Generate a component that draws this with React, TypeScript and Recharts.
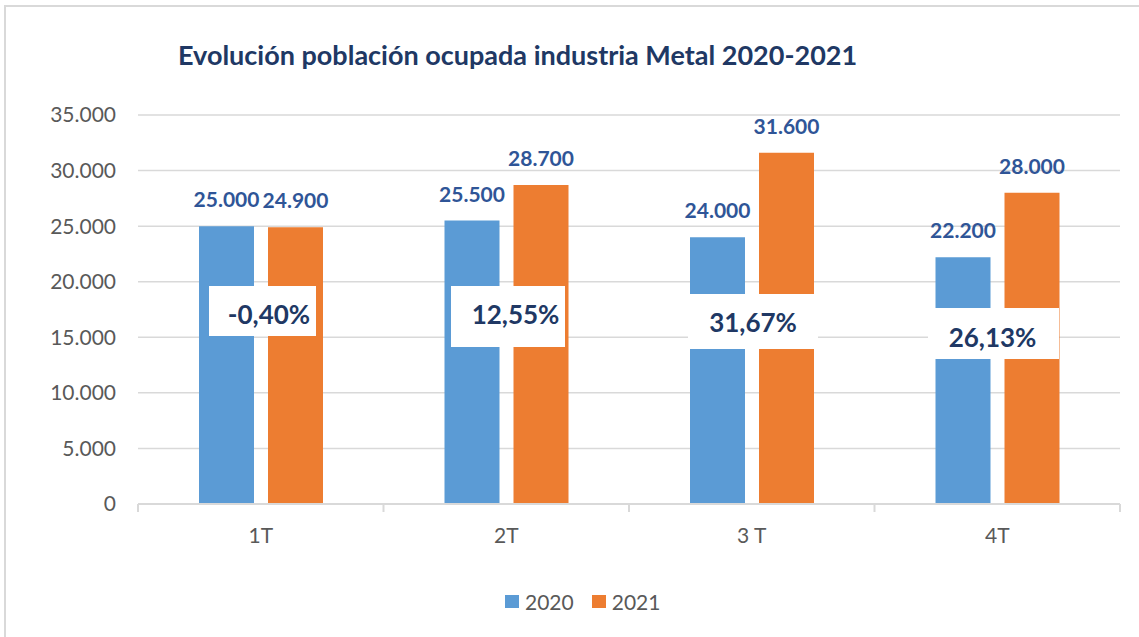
import { BarChart, Bar, XAxis, YAxis, CartesianGrid, LabelList, Legend } from 'recharts'

const quarters = ['1T', '2T', '3 T', '4T']
const values2020 = [25000, 25500, 24000, 22200]
const values2021 = [24900, 28700, 31600, 28000]
const yTicks = [0, 5000, 10000, 15000, 20000, 25000, 30000, 35000]

const data = quarters.map((q, i) => ({
  quarter: q,
  y2020: values2020[i],
  y2021: values2021[i],
  change: ((values2021[i] - values2020[i]) / values2020[i]) * 100,
}))

const BLUE = '#5b9bd5'
const ORANGE = '#ed7d31'
const NAVY = '#203864'
const LABEL_BLUE = '#2f5597'
const GREY_TEXT = '#595959'
const GRID = '#d9d9d9'
const FONT = 'Lato, "Open Sans", sans-serif'
const BAR_GAP = 14

// white annotation boxes with the yearly change (anchor in data units)
const boxLayout = [
  { anchor: 17365, dx: 1.5, w: 107, h: 50, tdx: 6.5, tdy: 4 },
  { anchor: 16870, dx: 1.5, w: 114, h: 61, tdx: 7.5, tdy: -1.5 },
  { anchor: 16420, dx: 1, w: 130, h: 55, tdx: 0, tdy: 1 },
  { anchor: 15340, dx: -4, w: 131, h: 51, tdx: -1, tdy: 4 },
]

const fmtThousands = (v: number) => String(v).replace(/\B(?=(\d{3})+(?!\d))/g, '.')
const fmtPct = (v: number) => `${v.toFixed(2).replace('.', ',')}%`

function ChangeBox(props: any) {
  const { x, y, height, index, value } = props
  const layout = boxLayout[index]
  if (!layout) return null
  const base = y + height
  const pxPerUnit = height / values2021[index]
  const cy = base - layout.anchor * pxPerUnit
  const cx = x - BAR_GAP / 2 + layout.dx
  const fs = 26
  return (
    <g>
      <rect x={cx - layout.w / 2} y={cy - layout.h / 2} width={layout.w} height={layout.h} fill="#ffffff" />
      <text
        x={cx + layout.tdx}
        y={cy + layout.tdy + fs * 0.36}
        textAnchor="middle"
        fontFamily={FONT}
        fontWeight={700}
        fontSize={fs}
        fill={NAVY}
      >
        {fmtPct(value)}
      </text>
    </g>
  )
}

// category label plus tick marks on the band edges
function QuarterTick(props: any) {
  const { x, y, payload, index, visibleTicksCount } = props
  const half = payload && payload.offset ? payload.offset : 122.75
  const isLast = index === (visibleTicksCount ?? quarters.length) - 1
  const axisY = y - 25
  return (
    <g>
      <line x1={x - half} x2={x - half} y1={axisY} y2={axisY + 8} stroke={GRID} strokeWidth={2} />
      {isLast && <line x1={x + half} x2={x + half} y1={axisY} y2={axisY + 8} stroke={GRID} strokeWidth={2} />}
      <text x={x} y={axisY + 39} textAnchor="middle" fontFamily={FONT} fontSize={21} fill={GREY_TEXT}>
        {payload.value}
      </text>
    </g>
  )
}

function LegendContent({ payload }: any) {
  return (
    <div style={{ display: 'flex', alignItems: 'center', fontFamily: FONT, fontSize: 21, color: GREY_TEXT }}>
      {(payload || []).map((p: any, i: number) => (
        <div key={p.value} style={{ display: 'flex', alignItems: 'center', marginRight: i === 0 ? 18 : 0 }}>
          <span style={{ display: 'inline-block', width: 14, height: 13, background: p.color, marginRight: 6 }} />
          <span>{p.value}</span>
        </div>
      ))}
    </div>
  )
}

export default function App() {
  return (
    <div style={{ position: 'absolute', left: 0, top: 0, width: 1139, height: 637, overflow: 'hidden', background: '#fff' }}>
      <div style={{ position: 'absolute', left: 4, top: 5, width: 1200, height: 700, border: `2px solid ${GRID}` }} />
      <div
        style={{
          position: 'absolute', left: 178, top: 39, fontFamily: FONT, fontWeight: 700,
          fontSize: 27, lineHeight: '32px', color: NAVY, whiteSpace: 'nowrap',
        }}
      >
        Evolución población ocupada industria Metal 2020-2021
      </div>
      <div style={{ position: 'absolute', left: 0, top: 0 }}>
        <BarChart
          width={1139}
          height={637}
          data={data}
          margin={{ top: 115, right: 19, bottom: 93, left: 0 }}
          barSize={55}
          barGap={BAR_GAP}
        >
          <CartesianGrid vertical={false} stroke={GRID} strokeWidth={1.5} />
          <XAxis
            dataKey="quarter"
            height={40}
            axisLine={{ stroke: GRID, strokeWidth: 2 }}
            tickLine={false}
            tickSize={0}
            tickMargin={25}
            tick={<QuarterTick />}
          />
          <YAxis
            width={138}
            domain={[0, 35000]}
            ticks={yTicks}
            tickFormatter={fmtThousands}
            axisLine={false}
            tickLine={false}
            tickSize={0}
            tickMargin={22}
            tick={{ fill: GREY_TEXT, fontSize: 21, fontFamily: FONT }}
          />
          <Legend
            layout="horizontal"
            verticalAlign="middle"
            align="center"
            wrapperStyle={{ left: 505, top: 589, width: 220 }}
            content={<LegendContent />}
          />
          <Bar dataKey="y2020" name="2020" fill={BLUE} isAnimationActive={false}>
            <LabelList
              dataKey="y2020"
              position="top"
              offset={19}
              formatter={(v: any) => fmtThousands(Number(v))}
              style={{ fill: LABEL_BLUE, fontSize: 21, fontWeight: 700, fontFamily: FONT }}
            />
          </Bar>
          <Bar dataKey="y2021" name="2021" fill={ORANGE} isAnimationActive={false}>
            <LabelList
              dataKey="y2021"
              position="top"
              offset={19}
              formatter={(v: any) => fmtThousands(Number(v))}
              style={{ fill: LABEL_BLUE, fontSize: 21, fontWeight: 700, fontFamily: FONT }}
            />
            <LabelList dataKey="change" content={<ChangeBox />} />
          </Bar>
        </BarChart>
      </div>
    </div>
  )
}
